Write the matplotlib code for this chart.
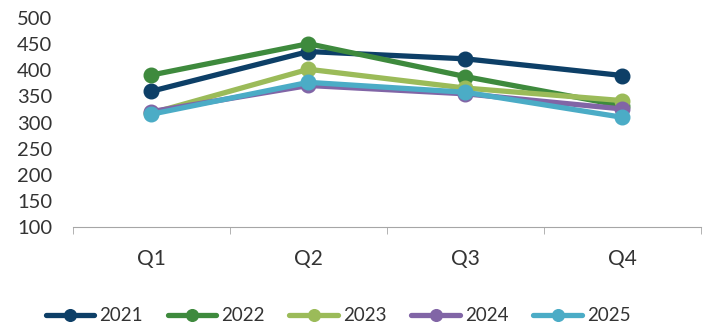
import matplotlib.pyplot as plt

quarters = ['Q1', 'Q2', 'Q3', 'Q4']
years = ['2021', '2022', '2023', '2024', '2025']
v2021 = [360, 436, 422, 390]
v2022 = [391, 451, 388, 332]
v2023 = [318, 402, 366, 342]
v2024 = [321, 371, 355, 326]
v2025 = [316, 377, 358, 310]
colors = ['#0d3f67', '#3e8a3d', '#9bbb59', '#8165a6', '#4bacc6']

plt.rcParams['font.family'] = ['Lato', 'DejaVu Sans']

fig = plt.figure(figsize=(7.12, 3.29), dpi=100)
ax = fig.add_axes([0.1025, 0.31, 0.882, 0.635])

x = range(len(quarters))
for vals, name, c in zip([v2021, v2022, v2023, v2024, v2025], years, colors):
    ax.plot(x, vals, color=c, lw=3.8, marker='o', ms=10.5, label=name,
            solid_capstyle='round')

ax.set_xlim(-0.5, 3.5)
ax.set_ylim(100, 500)
ax.set_yticks(range(100, 501, 50))
ax.set_xticks(list(x))
ax.set_xticklabels(quarters)
ax.set_xticks([-0.5, 0.5, 1.5, 2.5, 3.5], minor=True)
ax.tick_params(axis='x', which='major', length=0, pad=16, labelsize=15, labelcolor='#333333')
ax.tick_params(axis='x', which='minor', length=5, color='#a6a6a6', direction='out')
ax.tick_params(axis='y', length=0, pad=15, labelsize=14.5, labelcolor='#333333')
for s in ['top', 'right', 'left']:
    ax.spines[s].set_visible(False)
ax.spines['bottom'].set_color('#a6a6a6')

leg = fig.legend(loc='center', bbox_to_anchor=(0.475, 0.04), ncol=5, frameon=False,
                 fontsize=13.5, handlelength=2.6, handletextpad=0.28, columnspacing=1.3,
                 markerscale=0.8)
for t in leg.get_texts():
    t.set_color('#333333')

fig.savefig('out.png', dpi=100)
